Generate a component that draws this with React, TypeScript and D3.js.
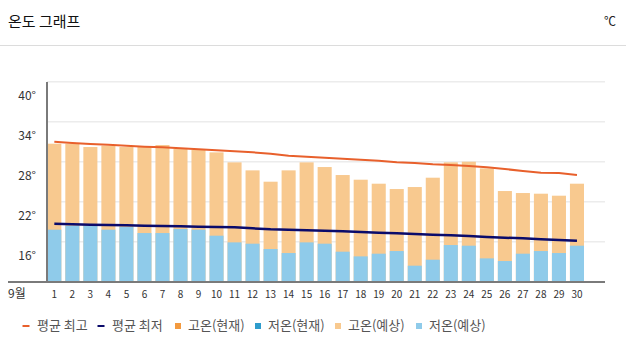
import React from "react";
import * as d3 from "d3";

const days = ["1","2","3","4","5","6","7","8","9","10","11","12","13","14","15","16","17","18","19","20","21","22","23","24","25","26","27","28","29","30"];
const highForecast = [30.7,30.7,30.2,30.4,30.2,30.2,30.5,29.9,29.8,29.4,27.9,26.7,25.0,26.7,27.9,27.2,26.0,25.3,24.7,23.9,24.2,25.6,27.9,28.0,27.0,23.6,23.3,23.2,22.9,24.7];
const lowForecast = [17.8,18.4,18.4,17.8,18.2,17.3,17.3,17.9,17.8,16.9,15.9,15.7,14.9,14.3,15.9,15.7,14.5,13.8,14.2,14.6,12.4,13.3,15.5,15.4,13.5,13.1,14.2,14.6,14.3,15.4];
const avgHigh = [31.0,30.8,30.65,30.55,30.4,30.25,30.15,30.0,29.85,29.7,29.55,29.4,29.2,28.9,28.75,28.6,28.45,28.3,28.15,27.9,27.8,27.6,27.5,27.35,27.15,26.9,26.6,26.35,26.3,26.0];
const avgLow = [18.7,18.6,18.55,18.5,18.45,18.4,18.35,18.3,18.25,18.2,18.15,18.0,17.85,17.8,17.7,17.65,17.55,17.45,17.35,17.25,17.15,17.05,16.95,16.85,16.7,16.6,16.5,16.35,16.25,16.15];
const yTicks = [40, 34, 28, 22, 16];
const gridValues = [40, 34, 28, 22, 16];
const legendItems = [
  { label: "평균 최고", color: "#e8602c", kind: "line" },
  { label: "평균 최저", color: "#0b0b6b", kind: "line" },
  { label: "고온(현재)", color: "#f39a3f", kind: "box" },
  { label: "저온(현재)", color: "#2f9ccc", kind: "box" },
  { label: "고온(예상)", color: "#f8c98f", kind: "box" },
  { label: "저온(예상)", color: "#8fcbea", kind: "box" },
];
const legendX = [22, 97, 175, 255, 335, 416];

const W = 626, H = 356;
const FONT = "'Noto Sans CJK KR', 'Noto Sans', sans-serif";

export default function App() {
  const x = d3.scaleBand<string>().domain(days).range([47.3, 584]).paddingInner(0.22).paddingOuter(0);
  const y = d3.scaleLinear().domain([10, 40]).range([281.7, 81.7]);
  const cx = (d: string) => (x(d) as number) + x.bandwidth() / 2;
  const lineHigh = d3.line<number>().x((_, i) => cx(days[i])).y((v) => y(v));
  const lineLow = d3.line<number>().x((_, i) => cx(days[i])).y((v) => y(v));
  const bottom = y(10);

  return (
    <div style={{ position: "absolute", left: 0, top: 0 }}>
      <svg width={W} height={H} style={{ display: "block", background: "#fff" }} fontFamily={FONT}>
        <text x={8} y={27} fontSize={15} fill="#111">온도 그래프</text>
        <text x={616} y={26} fontSize={12} fill="#222" textAnchor="end">℃</text>
        <line x1={0} x2={626} y1={45.5} y2={45.5} stroke="#dcdcdc" strokeWidth={1} />

        {gridValues.map((g) => (
          <line key={g} x1={47} x2={605} y1={y(g)} y2={y(g)} stroke="#ececec" strokeWidth={1.5} />
        ))}

        {days.map((d, i) => (
          <g key={d}>
            <rect x={x(d)} y={y(highForecast[i])} width={x.bandwidth()} height={bottom - y(highForecast[i])} fill="#f8c98f" />
            <rect x={x(d)} y={y(lowForecast[i])} width={x.bandwidth()} height={bottom - y(lowForecast[i])} fill="#8fcbea" />
          </g>
        ))}

        <path d={lineHigh(avgHigh) || ""} fill="none" stroke="#e8602c" strokeWidth={2} />
        <path d={lineLow(avgLow) || ""} fill="none" stroke="#0b0b6b" strokeWidth={2.5} />

        <line x1={47} x2={47} y1={82} y2={283} stroke="#7a7a7a" strokeWidth={2} />
        <line x1={8} x2={605} y1={282} y2={282} stroke="#7a7a7a" strokeWidth={2} />

        {yTicks.map((t) => (
          <text key={t} x={36} y={y(t) + 15} fontSize={12} fill="#333" textAnchor="end" dominantBaseline="middle">{t}°</text>
        ))}

        <text x={8} y={295} fontSize={12} fill="#333" dominantBaseline="middle">9월</text>
        {days.map((d) => (
          <text key={d} x={cx(d)} y={295} fontSize={10} fill="#333" textAnchor="middle" dominantBaseline="middle">{d}</text>
        ))}

        {legendItems.map((it, i) => (
          <g key={it.label} transform={`translate(${legendX[i]},326)`}>
            {it.kind === "line" ? (
              <line x1={0.5} x2={7.5} y1={0} y2={0} stroke={it.color} strokeWidth={2} />
            ) : (
              <rect x={0} y={-3} width={6} height={6} fill={it.color} />
            )}
            <text x={it.kind === "line" ? 15 : 13} y={0} fontSize={13} fill="#555" dominantBaseline="middle">{it.label}</text>
          </g>
        ))}
      </svg>
    </div>
  );
}
